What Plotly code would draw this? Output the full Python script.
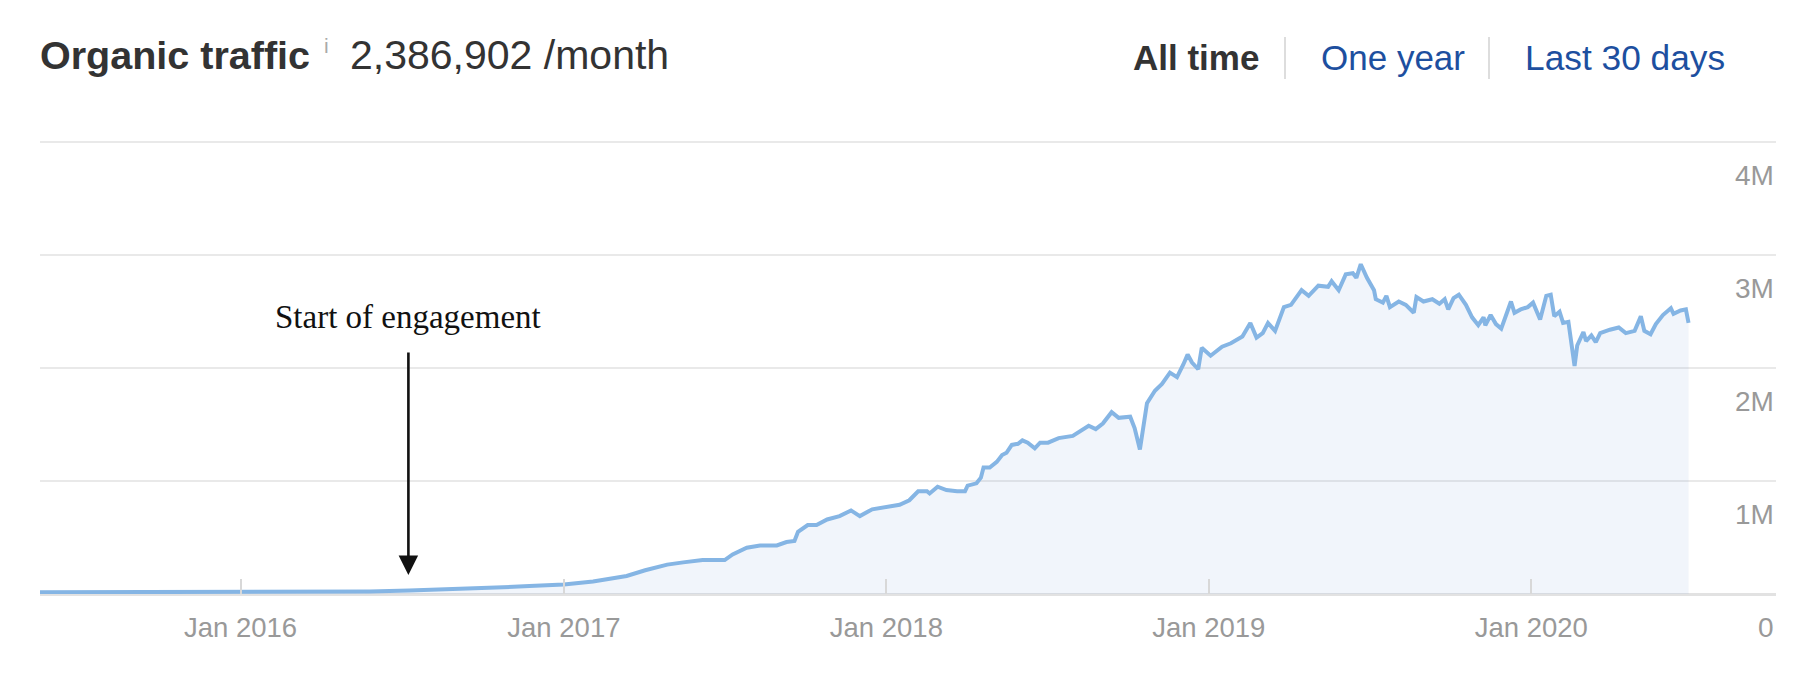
import plotly.graph_objects as go

# ---------------- data ----------------
dates = [
    "2015-05-19", "2015-09-20", "2016-01-11", "2016-04-10", "2016-05-26", "2016-07-10", "2016-08-24", "2016-09-27", "2016-10-16", "2016-11-23",
    "2017-01-01", "2017-02-03", "2017-03-13", "2017-04-03", "2017-04-28", "2017-05-16", "2017-06-07", "2017-07-02", "2017-07-11", "2017-07-27",
    "2017-08-11", "2017-08-30", "2017-09-10", "2017-09-19", "2017-09-23", "2017-10-04", "2017-10-14", "2017-10-26", "2017-11-09", "2017-11-22",
    "2017-12-02", "2017-12-16", "2017-12-31",
    "2018-01-08", "2018-01-16", "2018-01-27", "2018-02-06", "2018-02-16", "2018-02-19", "2018-02-28", "2018-03-10", "2018-03-22", "2018-03-31",
    "2018-04-03", "2018-04-13", "2018-04-18", "2018-04-21", "2018-04-28", "2018-05-06", "2018-05-12", "2018-05-17", "2018-05-23", "2018-05-30",
    "2018-06-04", "2018-06-10", "2018-06-18", "2018-06-24", "2018-07-03", "2018-07-15", "2018-07-31", "2018-08-08", "2018-08-18", "2018-08-26",
    "2018-09-03", "2018-09-13", "2018-09-21", "2018-10-04", "2018-10-09", "2018-10-15", "2018-10-19", "2018-10-23", "2018-11-01", "2018-11-09",
    "2018-11-18", "2018-11-26", "2018-12-03", "2018-12-08", "2018-12-13", "2018-12-20", "2018-12-24",
    "2019-01-03", "2019-01-16", "2019-01-26", "2019-02-08", "2019-02-17", "2019-02-24", "2019-03-03", "2019-03-09", "2019-03-17", "2019-03-27",
    "2019-04-04", "2019-04-16", "2019-04-24", "2019-05-05", "2019-05-16", "2019-05-20", "2019-05-28", "2019-06-05", "2019-06-13", "2019-06-17",
    "2019-06-22", "2019-06-29", "2019-07-07", "2019-07-09", "2019-07-17", "2019-07-21", "2019-07-25", "2019-08-04", "2019-08-12", "2019-08-21",
    "2019-08-24", "2019-09-01", "2019-09-11", "2019-09-19", "2019-09-25", "2019-09-29", "2019-10-05", "2019-10-11", "2019-10-19", "2019-10-26",
    "2019-11-02", "2019-11-08", "2019-11-10", "2019-11-16", "2019-11-22", "2019-11-28", "2019-12-04", "2019-12-09", "2019-12-13", "2019-12-20",
    "2019-12-28",
    "2020-01-03", "2020-01-11", "2020-01-18", "2020-01-23", "2020-01-27", "2020-02-02", "2020-02-06", "2020-02-12", "2020-02-16", "2020-02-19",
    "2020-02-22", "2020-02-29", "2020-03-03", "2020-03-09", "2020-03-14", "2020-03-19", "2020-03-30", "2020-04-09", "2020-04-17", "2020-04-27",
    "2020-05-04", "2020-05-08", "2020-05-15", "2020-05-21", "2020-05-29", "2020-06-07", "2020-06-10", "2020-06-18", "2020-06-24", "2020-06-27",
]

traffic_millions = [
    0.015, 0.015, 0.016, 0.018, 0.022, 0.030, 0.040, 0.047, 0.058, 0.070,
    0.085, 0.11, 0.16, 0.21, 0.26, 0.28, 0.30, 0.30, 0.35, 0.41,
    0.43, 0.43, 0.46, 0.47, 0.55, 0.61, 0.61, 0.66, 0.69, 0.74,
    0.69, 0.75, 0.77,
    0.78, 0.79, 0.83, 0.91, 0.91, 0.89, 0.95, 0.92, 0.91, 0.91,
    0.96, 0.98, 1.03, 1.12, 1.12, 1.17, 1.23, 1.25, 1.32, 1.33,
    1.36, 1.34, 1.29, 1.34, 1.34, 1.38, 1.40, 1.44, 1.49, 1.46,
    1.51, 1.61, 1.56, 1.57, 1.47, 1.28, 1.51, 1.69, 1.80, 1.86,
    1.96, 1.92, 2.03, 2.12, 2.05, 1.99, 2.18,
    2.11, 2.19, 2.22, 2.28, 2.40, 2.27, 2.31, 2.40, 2.33, 2.54,
    2.56, 2.69, 2.64, 2.73, 2.72, 2.77, 2.69, 2.83, 2.84, 2.80,
    2.92, 2.80, 2.69, 2.61, 2.58, 2.64, 2.54, 2.59, 2.56, 2.49,
    2.63, 2.59, 2.61, 2.57, 2.61, 2.52, 2.62, 2.65, 2.56, 2.45,
    2.38, 2.45, 2.38, 2.47, 2.39, 2.35, 2.49, 2.59, 2.49, 2.52,
    2.54,
    2.58, 2.43, 2.64, 2.65, 2.46, 2.50, 2.40, 2.41, 2.19, 2.02,
    2.20, 2.32, 2.24, 2.29, 2.23, 2.31, 2.34, 2.36, 2.31, 2.33,
    2.46, 2.33, 2.30, 2.39, 2.47, 2.53, 2.48, 2.51, 2.52, 2.40,
]

x_range = ["2015-05-19", "2020-10-04"]
y_range = [0, 4_020_000]
y_tick_values = [0, 1_000_000, 2_000_000, 3_000_000, 4_000_000]
y_tick_labels = ["0", "1M", "2M", "3M", "4M"]

title_text = "Organic traffic"
total_text = "2,386,902 /month"
period_labels = ["All time", "One year", "Last 30 days"]
note_text = "Start of engagement"
note_date = "2016-07-09"
note_value = 168_000

traffic = [v * 1_000_000 for v in traffic_millions]
assert len(dates) == len(traffic)

# ---------------- layout helpers ----------------
OFF = 8                      # default page body margin
W, H = 1818 - 2 * OFF, 692 - 2 * OFF
PLOT_L, PLOT_R, PLOT_T, PLOT_B = 40, 1776, 140, 594   # page pixel frame of the plot area
L, R = PLOT_L - OFF, (1818 - PLOT_R) - OFF
T, B = PLOT_T - OFF, (692 - PLOT_B) - OFF
PW, PH = PLOT_R - PLOT_L, PLOT_B - PLOT_T


def px(xp):
    return (xp - PLOT_L) / PW


def py(yp):
    return (PLOT_B - yp) / PH


SANS = "Arial, 'Liberation Sans', Helvetica, sans-serif"
DARK = "#333333"
BLUE = "#1d4f9f"
GREY = "#999999"

fig = go.Figure()
fig.add_trace(go.Scatter(
    x=dates, y=traffic, mode="lines",
    line=dict(color="#85b5e4", width=4),
    fill="tozeroy", fillcolor="rgba(120,160,215,0.10)",
    hoverinfo="skip",
))

annotations = []
# y tick labels (below their gridlines, right-aligned)
for v, t in zip(y_tick_values, y_tick_labels):
    annotations.append(dict(
        x=1, xref="paper", y=v, yref="y", xanchor="right", yanchor="middle",
        yshift=-33, text=t, showarrow=False,
        font=dict(family=SANS, size=28, color=GREY),
    ))

# header
annotations += [
    dict(x=px(38), y=py(55), xref="paper", yref="paper", xanchor="left", yanchor="middle",
         text="<b>" + title_text + "</b>", showarrow=False,
         font=dict(family=SANS, size=39.5, color=DARK)),
    dict(x=px(326), y=py(45), xref="paper", yref="paper", xanchor="center", yanchor="middle",
         text="i", showarrow=False, font=dict(family=SANS, size=21, color="#aaaaaa")),
    dict(x=px(348), y=py(55), xref="paper", yref="paper", xanchor="left", yanchor="middle",
         text=total_text, showarrow=False,
         font=dict(family=SANS, size=41, color=DARK)),
    dict(x=px(1131), y=py(58), xref="paper", yref="paper", xanchor="left", yanchor="middle",
         text="<b>" + period_labels[0] + "</b>", showarrow=False,
         font=dict(family=SANS, size=35, color=DARK)),
    dict(x=px(1319), y=py(58), xref="paper", yref="paper", xanchor="left", yanchor="middle",
         text=period_labels[1], showarrow=False,
         font=dict(family=SANS, size=35, color=BLUE)),
    dict(x=px(1523), y=py(58), xref="paper", yref="paper", xanchor="left", yanchor="middle",
         text=period_labels[2], showarrow=False,
         font=dict(family=SANS, size=35.3, color=BLUE)),
]

# annotation arrow
annotations.append(dict(
    x=note_date, y=note_value, xref="x", yref="y",
    text=note_text, showarrow=True, ax=0, ay=-258,
    arrowhead=2, arrowsize=1.5, arrowwidth=2.6, arrowcolor="#111111",
    borderpad=17, standoff=0,
    font=dict(family="'Liberation Serif', 'Times New Roman', serif", size=33, color="#111111"),
))

shapes = [
    dict(type="line", xref="paper", yref="paper", x0=px(1285), x1=px(1285), y0=py(37), y1=py(79),
         line=dict(color="#dddddd", width=2)),
    dict(type="line", xref="paper", yref="paper", x0=px(1489), x1=px(1489), y0=py(37), y1=py(79),
         line=dict(color="#dddddd", width=2)),
]

fig.update_layout(
    width=W, height=H,
    margin=dict(l=L, r=R, t=T, b=B, pad=0),
    paper_bgcolor="white", plot_bgcolor="white",
    showlegend=False,
    annotations=annotations,
    shapes=shapes,
    xaxis=dict(
        type="date", range=x_range, tick0="2016-01-01", dtick="M12", tickformat="%b %Y",
        ticks="inside", ticklen=15, tickwidth=2, tickcolor="#d8d8d8",
        showgrid=False, showline=False, zeroline=False,
        tickfont=dict(family=SANS, size=27.5, color=GREY),
        ticklabelstandoff=14,
    ),
    yaxis=dict(
        range=y_range, tickvals=y_tick_values, showticklabels=False,
        showgrid=True, gridcolor="#e9e9e9", gridwidth=2,
        zeroline=True, zerolinecolor="#e2e2e2", zerolinewidth=3,
        ticks="", side="right", showline=False,
    ),
)

fig.write_html("out.html")
